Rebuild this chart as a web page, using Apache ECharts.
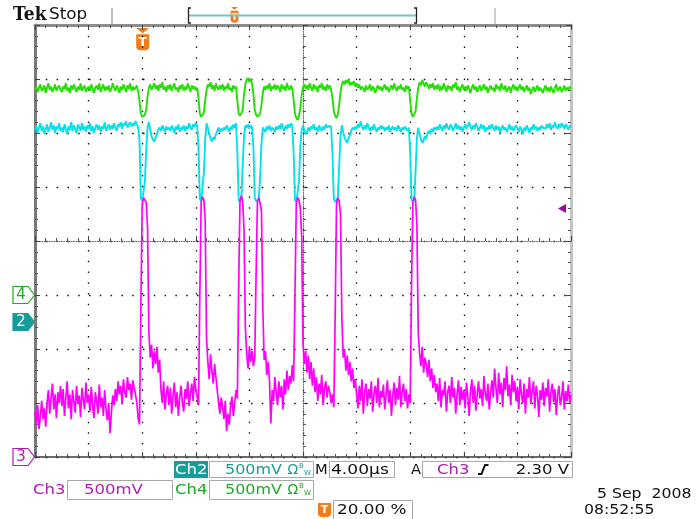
<!DOCTYPE html>
<html>
<head>
<meta charset="utf-8">
<script src="https://cdn.jsdelivr.net/npm/echarts@6/dist/echarts.min.js"></script>
<style>
html,body{margin:0;padding:0;background:#fff;}
#chart{width:696px;height:519px;}
</style>
</head>
<body>
<div id="chart"></div>
<script>
// ---- time base (µs): 4 µs/div, trigger at 20 % of record ----
const T_START = -8;
const T_STEP = 0.1;
const timeTicks = [-8, -4, 0, 4, 8, 12, 16, 20, 24, 28, 32];

// ---- channel settings ----
const ch2VoltsPerDiv = 0.5, ch3VoltsPerDiv = 0.5, ch4VoltsPerDiv = 0.5;
const ch2GroundDiv = -1.5, ch3GroundDiv = -4, ch4GroundDiv = -1;
const ch3TriggerLevel = 2.30;

// ---- Ch4 (green) samples, volts ----
const ch4Volts = [
1.90,1.93,1.88,1.92,1.95,1.89,1.91,1.94,1.87,1.92,1.96,1.90,1.93,1.88,1.91,1.95,1.89,1.92,1.94,1.90,
1.88,1.93,1.91,1.96,1.89,1.92,1.87,1.94,1.90,1.95,1.91,1.88,1.93,1.90,1.96,1.89,1.92,1.94,1.88,1.91,
1.93,1.89,1.95,1.91,1.87,1.92,1.94,1.90,1.96,1.88,1.92,1.95,1.89,1.93,1.90,1.94,1.88,1.91,1.96,1.92,
1.89,1.94,1.91,1.87,1.93,1.90,1.95,1.92,1.88,1.94,1.91,1.96,1.89,1.93,1.90,1.92,1.94,1.88,1.80,1.68,
1.65,1.64,1.67,1.72,1.84,1.92,1.95,1.90,1.93,1.96,1.91,1.94,1.89,1.95,1.92,1.97,1.90,1.93,1.88,1.94,
1.91,1.95,1.89,1.93,1.96,1.90,1.92,1.88,1.94,1.91,1.95,1.89,1.93,1.90,1.96,1.92,1.88,1.94,1.91,1.93,
1.90,1.92,1.82,1.68,1.65,1.64,1.69,1.80,1.90,1.95,1.93,1.97,1.91,1.94,1.89,1.96,1.92,1.90,1.94,1.91,
1.95,1.89,1.93,1.91,1.96,1.90,1.92,1.88,1.94,1.91,1.93,1.80,1.68,1.66,1.65,1.71,1.86,1.95,1.99,2.01,
1.97,2.00,1.96,1.86,1.71,1.67,1.65,1.66,1.68,1.76,1.87,1.93,1.90,1.94,1.91,1.96,1.89,1.93,1.91,1.95,
1.90,1.94,1.92,1.88,1.95,1.91,1.93,1.89,1.96,1.92,1.90,1.94,1.91,1.81,1.68,1.64,1.62,1.66,1.73,1.85,
1.92,1.95,1.91,1.94,1.90,1.96,1.92,1.89,1.95,1.91,1.93,1.88,1.94,1.92,1.96,1.90,1.93,1.89,1.95,1.91,
1.94,1.90,1.82,1.70,1.66,1.64,1.67,1.76,1.88,1.95,1.98,1.95,1.99,1.96,2.00,1.94,1.97,1.95,1.98,1.93,
1.96,1.92,1.95,1.90,1.93,1.91,1.88,1.94,1.90,1.92,1.95,1.89,1.93,1.91,1.87,1.92,1.94,1.90,1.93,1.89,
1.92,1.95,1.90,1.93,1.88,1.91,1.94,1.90,1.96,1.92,1.89,1.93,1.91,1.95,1.90,1.92,1.88,1.94,1.91,1.93,
1.80,1.68,1.65,1.66,1.70,1.82,1.92,1.97,1.94,1.99,1.96,1.93,1.97,1.94,1.91,1.95,1.92,1.96,1.90,1.94,
1.91,1.95,1.89,1.93,1.90,1.96,1.92,1.88,1.94,1.91,1.93,1.89,1.95,1.92,1.97,1.90,1.93,1.88,1.92,1.95,
1.90,1.93,1.89,1.94,1.91,1.87,1.92,1.95,1.90,1.93,1.88,1.91,1.94,1.89,1.92,1.95,1.90,1.93,1.87,1.91,
1.94,1.90,1.92,1.88,1.95,1.91,1.93,1.89,1.96,1.92,1.90,1.94,1.88,1.91,1.93,1.87,1.92,1.95,1.90,1.93,
1.89,1.92,1.95,1.90,1.93,1.88,1.91,1.94,1.89,1.92,1.86,1.90,1.93,1.88,1.91,1.94,1.89,1.92,1.90,1.87,
1.91,1.94,1.89,1.92,1.88,1.93,1.90,1.87,1.92,1.95,1.89,1.91,1.93,1.88,1.90,1.94,1.89,1.92,1.90,1.93,
1.91
];

// ---- Ch2 (cyan) samples, volts ----
const ch2Volts = [
1.78,1.82,1.75,1.80,1.84,1.77,1.81,1.74,1.79,1.83,1.76,1.80,1.85,1.78,1.82,1.75,1.81,1.79,1.84,1.77,
1.80,1.76,1.83,1.79,1.74,1.81,1.78,1.85,1.77,1.82,1.79,1.75,1.83,1.80,1.77,1.84,1.78,1.81,1.76,1.82,
1.79,1.84,1.77,1.81,1.75,1.80,1.83,1.78,1.82,1.76,1.81,1.79,1.85,1.77,1.80,1.83,1.78,1.82,1.79,1.84,
1.80,1.77,1.83,1.81,1.85,1.79,1.84,1.82,1.86,1.80,1.83,1.85,1.81,1.84,1.82,1.86,1.83,1.80,1.68,1.15,
1.12,1.13,1.30,1.60,1.80,1.85,1.78,1.72,1.69,1.67,1.71,1.74,1.78,1.80,1.77,1.82,1.79,1.76,1.81,1.78,
1.80,1.77,1.82,1.79,1.75,1.81,1.78,1.83,1.76,1.80,1.78,1.82,1.77,1.81,1.79,1.84,1.80,1.78,1.83,1.81,
1.84,1.82,1.62,1.14,1.12,1.13,1.38,1.68,1.84,1.80,1.74,1.70,1.67,1.71,1.69,1.74,1.77,1.80,1.76,1.79,
1.77,1.80,1.78,1.82,1.79,1.76,1.81,1.78,1.83,1.80,1.84,1.58,1.13,1.11,1.14,1.45,1.72,1.82,1.80,1.83,
1.79,1.82,1.80,1.62,1.15,1.12,1.11,1.13,1.35,1.65,1.80,1.78,1.76,1.81,1.78,1.82,1.77,1.80,1.79,1.76,
1.81,1.78,1.82,1.79,1.84,1.80,1.77,1.82,1.79,1.83,1.80,1.84,1.82,1.57,1.13,1.11,1.12,1.30,1.62,1.78,
1.82,1.78,1.74,1.76,1.80,1.77,1.81,1.79,1.83,1.78,1.80,1.76,1.82,1.79,1.77,1.81,1.78,1.83,1.80,1.79,
1.82,1.80,1.56,1.14,1.11,1.12,1.15,1.45,1.72,1.82,1.76,1.71,1.68,1.66,1.70,1.73,1.77,1.80,1.78,1.81,
1.79,1.83,1.80,1.86,1.81,1.78,1.82,1.79,1.84,1.80,1.77,1.81,1.78,1.83,1.79,1.76,1.80,1.78,1.82,1.79,
1.81,1.77,1.80,1.78,1.82,1.76,1.79,1.81,1.78,1.80,1.77,1.82,1.79,1.76,1.80,1.78,1.81,1.79,1.77,1.80,
1.56,1.13,1.11,1.13,1.40,1.70,1.80,1.74,1.69,1.66,1.68,1.72,1.70,1.75,1.77,1.74,1.79,1.76,1.80,1.78,
1.81,1.78,1.83,1.80,1.77,1.82,1.79,1.84,1.80,1.78,1.83,1.81,1.77,1.80,1.84,1.79,1.82,1.78,1.81,1.76,
1.80,1.83,1.79,1.82,1.85,1.80,1.78,1.82,1.79,1.84,1.81,1.77,1.80,1.83,1.79,1.82,1.76,1.80,1.78,1.82,
1.79,1.83,1.80,1.77,1.82,1.78,1.81,1.75,1.79,1.82,1.78,1.80,1.76,1.79,1.83,1.78,1.81,1.77,1.80,1.82,
1.79,1.76,1.81,1.78,1.74,1.80,1.77,1.82,1.79,1.75,1.80,1.78,1.83,1.79,1.81,1.77,1.80,1.78,1.82,1.80,
1.81,1.79,1.83,1.80,1.84,1.78,1.82,1.80,1.85,1.81,1.79,1.83,1.80,1.84,1.82,1.79,1.83,1.81,1.78,1.82,
1.80
];

// ---- Ch3 (magenta) samples, volts ----
const ch3Volts = [
0.42,0.30,0.48,0.26,0.38,0.52,0.35,0.45,0.28,0.50,0.62,0.40,0.55,0.68,0.44,0.58,0.36,0.60,0.50,0.66,
0.47,0.63,0.38,0.55,0.70,0.45,0.58,0.35,0.62,0.52,0.41,0.66,0.49,0.57,0.37,0.64,0.53,0.44,0.69,0.50,
0.58,0.42,0.65,0.48,0.36,0.60,0.52,0.40,0.67,0.46,0.55,0.38,0.62,0.44,0.34,0.50,0.22,0.41,0.57,0.48,
0.63,0.52,0.70,0.58,0.66,0.49,0.72,0.60,0.55,0.74,0.62,0.68,0.53,0.71,0.64,0.58,0.50,0.36,0.30,1.40,
2.34,2.40,2.38,2.36,2.12,1.15,0.92,1.04,0.82,0.98,0.86,1.02,0.78,0.90,0.62,0.50,0.70,0.44,0.58,0.66,
0.48,0.64,0.40,0.57,0.69,0.46,0.60,0.38,0.55,0.66,0.50,0.42,0.63,0.54,0.70,0.47,0.59,0.68,0.52,0.74,
0.62,0.56,0.48,1.50,2.36,2.41,2.38,2.20,1.10,0.88,0.72,0.95,0.80,0.68,0.86,0.74,0.62,0.50,0.40,0.55,
0.46,0.35,0.52,0.24,0.40,0.30,0.48,0.56,0.38,0.50,0.62,0.54,1.60,2.38,2.42,2.36,2.10,1.20,0.95,0.82,
1.02,0.88,0.98,0.84,0.92,1.70,2.37,2.40,2.35,2.28,1.40,0.90,0.98,0.76,0.88,0.70,0.31,0.62,0.52,0.74,
0.60,0.48,0.70,0.55,0.66,0.44,0.72,0.58,0.80,0.62,0.75,0.68,0.85,0.70,1.50,2.35,2.40,2.38,2.30,2.05,
1.05,0.86,0.98,0.78,0.94,0.72,0.88,0.66,0.82,0.60,0.74,0.52,0.68,0.58,0.76,0.48,0.64,0.70,0.55,0.66,
0.60,0.50,0.58,0.46,1.30,2.34,2.40,2.37,2.25,1.30,0.92,1.00,0.80,0.94,0.76,0.88,0.70,0.82,0.64,0.72,
0.58,0.45,0.66,0.52,0.72,0.40,0.60,0.68,0.47,0.63,0.54,0.70,0.42,0.59,0.66,0.50,0.73,0.46,0.61,0.55,
0.67,0.44,0.58,0.71,0.50,0.62,0.38,0.57,0.69,0.48,0.64,0.53,0.75,0.46,0.60,0.68,0.52,0.63,0.45,0.58,
0.50,1.60,2.36,2.41,2.38,2.15,1.15,0.96,0.84,1.02,0.78,0.92,0.86,0.74,0.90,0.70,0.82,0.64,0.76,0.60,
0.68,0.52,0.73,0.46,0.62,0.57,0.70,0.42,0.60,0.66,0.50,0.74,0.55,0.64,0.40,0.59,0.71,0.48,0.65,0.53,
0.62,0.45,0.69,0.56,0.38,0.61,0.72,0.50,0.66,0.43,0.58,0.70,0.54,0.63,0.47,0.75,0.59,0.52,0.68,0.44,
0.60,0.71,0.55,0.82,0.64,0.50,0.78,0.58,0.69,0.46,0.73,0.62,0.84,0.56,0.67,0.48,0.76,0.60,0.70,0.52,
0.65,0.44,0.72,0.58,0.50,0.68,0.40,0.63,0.55,0.74,0.49,0.61,0.70,0.45,0.66,0.57,0.37,0.62,0.53,0.69,
0.47,0.64,0.56,0.72,0.42,0.60,0.68,0.51,0.63,0.39,0.58,0.66,0.48,0.55,0.70,0.44,0.61,0.52,0.67,0.50,
0.58
];

// ---- readout texts ----
const readoutTexts = {
  ch2Scale: '500mV', ch3Scale: '500mV', ch4Scale: '500mV',
  timebase: '4.00\u00b5s', trigLevel: '2.30 V', trigPos: '20.00 %',
  date: '5 Sep  2008', time: '08:52:55'
};

// ---------------------------------------------------------------
const GRID = {left: 35, top: 25, width: 536, height: 432};
const COL = {ch2: '#00e2ec', ch3: '#ff00ff', ch4: '#22e000'};
const TXT = {ch2: '#159c9c', ch3: '#b01eb0', ch4: '#20a820', orange: '#f47a1a'};
const FONT = '"DejaVu Sans"';

function toSeries(volts, vpd, gnd) {
  return volts.map((v, i) => [+(T_START + i * T_STEP).toFixed(2), v / vpd + gnd]);
}

const chart = echarts.init(document.getElementById('chart'), null, {renderer: 'canvas'});

const xTickLen = GRID.width / 10 / 5;   // px between minor graduations
const yTickLen = GRID.height / 8 / 5;

function xAxisDef(pos, offset, line, splitShow) {
  return {
    type: 'value', min: timeTicks[0], max: timeTicks[timeTicks.length - 1], interval: 4,
    position: pos, offset: offset,
    axisLine: {show: true, onZero: false, lineStyle: line},
    axisTick: {show: true, inside: true, length: 5, lineStyle: {color: '#444', width: 1}},
    minorTick: {show: true, splitNumber: 5, length: 3, lineStyle: {color: '#555', width: 1}},
    axisLabel: {show: false},
    splitLine: {show: splitShow, lineStyle: {color: '#111', width: 1.3, type: [1.5, xTickLen - 1.5]}},
    minorSplitLine: {show: false}
  };
}
function yAxisDef(pos, offset, line, splitShow) {
  return {
    type: 'value', min: -4, max: 4, interval: 1,
    position: pos, offset: offset,
    axisLine: {show: true, onZero: false, lineStyle: line},
    axisTick: {show: true, inside: true, length: 5, lineStyle: {color: '#444', width: 1}},
    minorTick: {show: true, splitNumber: 5, length: 3, lineStyle: {color: '#555', width: 1}},
    axisLabel: {show: false},
    splitLine: {show: splitShow, lineStyle: {color: '#111', width: 1.3, type: [1.5, yTickLen - 1.5]}},
    minorSplitLine: {show: false}
  };
}

function txt(x, y, text, color, size, opts) {
  opts = opts || {};
  return {
    type: 'text', x: x, y: y, scaleX: opts.scaleX || 1.18, z: 100, silent: true,
    style: {text: text, fill: color, fontSize: size || 14, fontFamily: opts.family || FONT,
      fontWeight: opts.weight || 'normal', align: opts.align || 'left', verticalAlign: 'middle'}
  };
}
function box(x, y, w, h) {
  return {type: 'rect', z: 90, silent: true, shape: {x: x, y: y, width: w, height: h},
    style: {fill: '#fff', stroke: '#a8a8a8', lineWidth: 1}};
}
function chMarker(cy, label, color, filled) {
  return {
    type: 'group', z: 100, silent: true,
    children: [
      {type: 'polygon', shape: {points: [[13, cy - 8.5], [28, cy - 8.5], [34.5, cy], [28, cy + 8.5], [13, cy + 8.5]]},
        style: {fill: filled ? color : '#fff', stroke: color, lineWidth: 1.2}},
      {type: 'text', x: 21, y: cy + 0.5, style: {text: label, fill: filled ? '#fff' : color, fontSize: 15,
        fontFamily: FONT, align: 'center', verticalAlign: 'middle'}}
    ]
  };
}
function tMarker(cx, top, w, h, tri) {
  const ch = [];
  if (tri) ch.push({type: 'polygon', shape: {points: [[cx - tri, top], [cx + tri, top], [cx, top + tri * 0.8]]},
    style: {fill: TXT.orange}});
  const bt = top + (tri ? tri * 0.8 + 1 : 0);
  ch.push({type: 'rect', shape: {x: cx - w / 2, y: bt, width: w, height: h, r: [1, 1, 4, 4]}, style: {fill: TXT.orange}});
  ch.push({type: 'text', x: cx, y: bt + h / 2 + 0.5, style: {text: 'T', fill: '#fff', fontSize: h - 3,
    fontWeight: 'bold', fontFamily: FONT, align: 'center', verticalAlign: 'middle'}});
  return {type: 'group', z: 100, silent: true, children: ch};
}

const divPx = GRID.height / 8;
const yOfDiv = d => GRID.top + GRID.height / 2 - d * divPx;
const xOfT = t => GRID.left + (t - T_START) / 40 * GRID.width;
const trigY = yOfDiv(ch3GroundDiv + ch3TriggerLevel / ch3VoltsPerDiv);

const option = {
  animation: false,
  backgroundColor: '#ffffff',
  grid: {left: GRID.left, top: GRID.top, width: GRID.width, height: GRID.height, containLabel: false, outerBoundsMode: 'none'},
  xAxis: [
    xAxisDef('bottom', 0, {color: '#3c3c3c', width: 1.5}, true),
    xAxisDef('top', 0, {color: '#8c8c8c', width: 3}, false),
    xAxisDef('bottom', -GRID.height / 2, {color: '#666', width: 1, type: [1, 1.4]}, false)
  ],
  yAxis: [
    yAxisDef('left', 0, {color: '#7a7a7a', width: 3}, true),
    yAxisDef('right', 0, {color: '#c4c4c4', width: 3}, false),
    yAxisDef('left', -GRID.width / 2, {color: '#666', width: 1, type: [1, 1.4]}, false)
  ],
  series: [
    {name: 'Ch4', type: 'line', xAxisIndex: 0, yAxisIndex: 0, showSymbol: false, z: 3,
      data: toSeries(ch4Volts, ch4VoltsPerDiv, ch4GroundDiv), lineStyle: {color: COL.ch4, width: 1.9}},
    {name: 'Ch2', type: 'line', xAxisIndex: 0, yAxisIndex: 0, showSymbol: false, z: 4,
      data: toSeries(ch2Volts, ch2VoltsPerDiv, ch2GroundDiv), lineStyle: {color: COL.ch2, width: 1.9}},
    {name: 'Ch3', type: 'line', xAxisIndex: 0, yAxisIndex: 0, showSymbol: false, z: 5,
      data: toSeries(ch3Volts, ch3VoltsPerDiv, ch3GroundDiv), lineStyle: {color: COL.ch3, width: 1.7}}
  ],
  graphic: [
    // header
    txt(13, 15, 'Tek', '#111', 18, {family: '"DejaVu Serif"', weight: 'bold', scaleX: 0.95}),
    txt(49, 15, 'Stop', '#111', 16, {scaleX: 1.05}),
    {type: 'line', z: 95, silent: true, shape: {x1: 112, y1: 8, x2: 112, y2: 24}, style: {stroke: '#bdbdbd', lineWidth: 2}},
    {type: 'line', z: 95, silent: true, shape: {x1: 495, y1: 8, x2: 495, y2: 24}, style: {stroke: '#cfcfcf', lineWidth: 2}},
    {type: 'line', z: 95, silent: true, shape: {x1: 189, y1: 15.5, x2: 417, y2: 15.5}, style: {stroke: '#6cc8c8', lineWidth: 2}},
    {type: 'polyline', z: 96, silent: true, shape: {points: [[191, 8], [188.5, 8], [188.5, 23], [191, 23]]}, style: {stroke: '#222', lineWidth: 1.3, fill: null}},
    {type: 'polyline', z: 96, silent: true, shape: {points: [[414, 8], [416.5, 8], [416.5, 23], [414, 23]]}, style: {stroke: '#222', lineWidth: 1.3, fill: null}},
    tMarker(234.5, 7, 8, 12, 3.5),
    // trigger position marker on graticule
    tMarker(xOfT(0) + 0.5, 28, 13, 16, 6.5),
    // channel ground markers
    chMarker(yOfDiv(ch4GroundDiv), '4', TXT.ch4, false),
    chMarker(yOfDiv(ch2GroundDiv), '2', TXT.ch2, true),
    chMarker(yOfDiv(ch3GroundDiv), '3', TXT.ch3, false),
    // trigger level arrow
    {type: 'polygon', z: 100, silent: true,
      shape: {points: [[558, trigY], [566, trigY - 4.5], [566, trigY + 4.5]]},
      style: {fill: '#9a0a9a'}},
    // readout row 1
    {type: 'rect', z: 90, silent: true, shape: {x: 174, y: 461, width: 34, height: 17}, style: {fill: TXT.ch2}},
    txt(175, 470, 'Ch2', '#fff', 14),
    box(209.5, 461.5, 104, 16),
    txt(225, 470, readoutTexts.ch2Scale, TXT.ch2, 14, {scaleX: 1.14}),
    txt(287.5, 470, '\u03a9', TXT.ch2, 14, {scaleX: 1}),
    txt(299, 466, 'B', TXT.ch2, 7, {scaleX: 1}),
    txt(304, 473, 'W', TXT.ch2, 7, {scaleX: 1}),
    txt(315, 470, 'M', '#111', 14, {scaleX: 1.05}),
    box(329.5, 461.5, 65, 16),
    txt(331, 470, readoutTexts.timebase, '#111', 14, {scaleX: 1.22}),
    txt(411, 470, 'A', '#111', 14, {scaleX: 1.05}),
    box(422.5, 461.5, 150, 16),
    txt(437, 470, 'Ch3', TXT.ch3, 14),
    {type: 'polyline', z: 100, silent: true, shape: {points: [[478, 474], [481.5, 474], [485, 465], [488.5, 465]]}, style: {stroke: '#111', lineWidth: 2, fill: null}},
    txt(569, 470, readoutTexts.trigLevel, '#111', 14, {align: 'right'}),
    // readout row 2
    txt(33, 490, 'Ch3', TXT.ch3, 14),
    box(67.5, 480.5, 105, 19),
    txt(84, 490, readoutTexts.ch3Scale, TXT.ch3, 14),
    txt(175, 490, 'Ch4', TXT.ch4, 14),
    box(209.5, 480.5, 104, 19),
    txt(225, 490, readoutTexts.ch4Scale, TXT.ch4, 14, {scaleX: 1.14}),
    txt(287.5, 490, '\u03a9', TXT.ch4, 14, {scaleX: 1}),
    txt(299, 486, 'B', TXT.ch4, 7, {scaleX: 1}),
    txt(304, 493, 'W', TXT.ch4, 7, {scaleX: 1}),
    // readout row 3
    tMarker(324.5, 503, 13, 14, 0),
    box(333.5, 500.5, 79, 20),
    txt(337, 510, readoutTexts.trigPos, '#111', 14, {scaleX: 1.2}),
    // date / time
    txt(597, 494, readoutTexts.date, '#111', 14, {scaleX: 1.12}),
    txt(584, 510, readoutTexts.time, '#111', 14, {scaleX: 1.12})
  ]
};
chart.setOption(option);
</script>
</body>
</html>
